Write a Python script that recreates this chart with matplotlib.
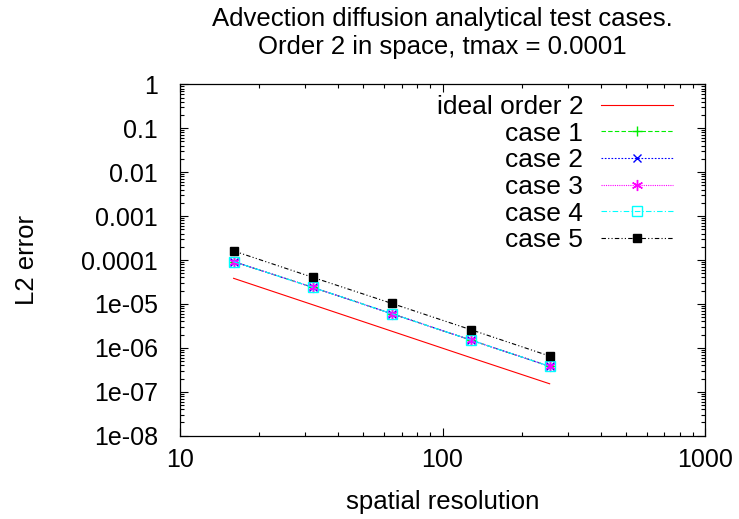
import matplotlib
matplotlib.use("Agg")
import matplotlib.pyplot as plt
from matplotlib.ticker import FixedLocator, FixedFormatter, LogLocator, NullFormatter

plt.rcParams['font.family'] = ['Liberation Sans', 'DejaVu Sans']

resolution = [16, 32, 64, 128, 256]
ideal_order2 = [3.83e-5, 9.6e-6, 2.4e-6, 6.0e-7, 1.52e-7]
case1 = [9.2e-5, 2.39e-5, 6.0e-6, 1.51e-6, 3.79e-7]
case2 = [9.2e-5, 2.39e-5, 6.0e-6, 1.51e-6, 3.79e-7]
case3 = [9.2e-5, 2.39e-5, 6.0e-6, 1.51e-6, 3.79e-7]
case4 = [9.2e-5, 2.39e-5, 6.0e-6, 1.51e-6, 3.79e-7]
case5 = [1.61e-4, 4.04e-5, 1.03e-5, 2.6e-6, 6.5e-7]

ytick_vals = [1, 0.1, 0.01, 0.001, 0.0001, 1e-5, 1e-6, 1e-7, 1e-8]
ytick_labels = ["1", "0.1", "0.01", "0.001", "0.0001", "1e-05", "1e-06", "1e-07", "1e-08"]
xtick_vals = [10, 100, 1000]
xtick_labels = ["10", "100", "1000"]

title = "Advection diffusion analytical test cases.\nOrder 2 in space, tmax = 0.0001"

FS = 18.5
FS_TICK = 18
FS_LEG = 19

fig = plt.figure(figsize=(7.39, 5.19), dpi=100)
ax = fig.add_axes([180/739, 1-435.7/519, 525/739, 351.4/519])

lw = 0.8
ax.plot(resolution, ideal_order2, color='#ff0000', lw=lw, label='ideal order 2')
ax.plot(resolution, case1, color='#00ee00', lw=lw, ls=(0, (4, 2)), marker='+', ms=7, mew=1, label='case 1')
ax.plot(resolution, case2, color='#0000ff', lw=lw, ls=(0, (1.5, 1.5)), marker='x', ms=6, mew=1, label='case 2')
ax.plot(resolution, case3, color='#ff00ff', lw=lw, ls=(0, (1, 1)), marker=(6, 2, 0), ms=8, mew=1, label='case 3')
ax.plot(resolution, case4, color='#00ffff', lw=lw, ls=(0, (5, 2, 1, 2)), marker='s', ms=6.5, mew=1,
        mfc='none', label='case 4')
ax.plot(resolution, case5, color='#000000', lw=lw, ls=(0, (4, 2, 1, 2, 1, 2)), marker='s', ms=6,
        label='case 5')

ax.set_xscale('log')
ax.set_yscale('log')
ax.set_xlim(10, 1000)
ax.set_ylim(1e-8, 1)

ax.yaxis.set_major_locator(FixedLocator(ytick_vals))
ax.yaxis.set_major_formatter(FixedFormatter(ytick_labels))
ax.xaxis.set_major_locator(FixedLocator(xtick_vals))
ax.xaxis.set_major_formatter(FixedFormatter(xtick_labels))
ax.yaxis.set_minor_locator(LogLocator(base=10, subs=range(2, 10), numticks=50))
ax.xaxis.set_minor_locator(LogLocator(base=10, subs=range(2, 10), numticks=50))
ax.yaxis.set_minor_formatter(NullFormatter())
ax.xaxis.set_minor_formatter(NullFormatter())

ax.tick_params(which='both', direction='in', top=True, right=True, width=0.8)
ax.tick_params(which='major', length=6)
ax.tick_params(which='minor', length=3)
ax.tick_params(axis='y', which='major', labelsize=FS_TICK, pad=16)
ax.tick_params(axis='x', which='major', labelsize=FS_TICK, pad=9)
for s in ax.spines.values():
    s.set_linewidth(0.9)

ax.set_xlabel('spatial resolution', fontsize=FS, labelpad=13)
ax.set_ylabel('L2 error', fontsize=FS, labelpad=30)
ax.set_title(title, fontsize=FS, linespacing=1.2, pad=22)

leg = ax.legend(loc='upper right', bbox_to_anchor=((673-180)/525, (435.7-95)/351.4),
                frameon=False, markerfirst=False, numpoints=1, fontsize=FS_LEG,
                handlelength=2.72, handletextpad=0.68, labelspacing=0.1,
                borderpad=0, borderaxespad=0)

fig.savefig('out.png', dpi=100)
